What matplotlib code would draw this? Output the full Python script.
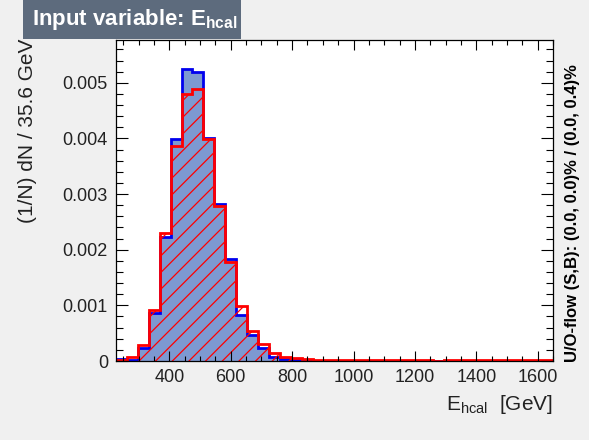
import numpy as np
import matplotlib
matplotlib.use("Agg")
import matplotlib.pyplot as plt
from matplotlib.patches import Rectangle
from matplotlib.ticker import MultipleLocator, FuncFormatter

plt.rcParams['font.family'] = ['Liberation Sans', 'DejaVu Sans']
plt.rcParams['mathtext.fontset'] = 'custom'
plt.rcParams['mathtext.rm'] = 'Liberation Sans'
plt.rcParams['mathtext.bf'] = 'Liberation Sans:bold'
plt.rcParams['hatch.linewidth'] = 0.9

# -----------------------------------------------------
# histogram data (normalised, 40 bins of 35.6 GeV)
# -----------------------------------------------------
x_lo = 226.0
bin_w = 35.6
n_bins = 40

signal = [
    0.00003, 0.00002, 0.00023, 0.00086, 0.00222, 0.00399, 0.00525, 0.00520,
    0.00400, 0.00282, 0.00183, 0.00083, 0.00047, 0.00024, 0.00008, 0.00003,
    0.00002, 0.00001, 0.0, 0.0, 0.0, 0.0, 0.0, 0.0,
    0.0, 0.0, 0.0, 0.0, 0.0, 0.0, 0.0, 0.0,
    0.0, 0.0, 0.0, 0.0, 0.0, 0.0, 0.0, 0.0,
]

background = [
    0.00001, 0.00007, 0.00029, 0.00092, 0.00230, 0.00387, 0.00480, 0.00489,
    0.00399, 0.00278, 0.00178, 0.00098, 0.00054, 0.00030, 0.00014, 0.00007,
    0.00005, 0.00004, 0.00002, 0.00002, 0.00002, 0.00002, 0.00002, 0.00002,
    0.00002, 0.00002, 0.00002, 0.00002, 0.00002, 0.0, 0.00002, 0.00002,
    0.00002, 0.00002, 0.00002, 0.00002, 0.00002, 0.00002, 0.00002, 0.00002,
]

edges = x_lo + bin_w * np.arange(n_bins + 1)

x_ticks = [400, 600, 800, 1000, 1200, 1400, 1600]
y_max = 0.00577

# -----------------------------------------------------
# figure
# -----------------------------------------------------
W, H = 589, 440
fig = plt.figure(figsize=(W / 100, H / 100), dpi=100, facecolor='#f0f0f0')
ax = fig.add_axes([116 / W, 1 - 361 / H, (553 - 116) / W, (361 - 40) / H])
ax.set_facecolor('white')

# signal: filled blue
ax.stairs(signal, edges, fill=True, facecolor='#7d99d1', edgecolor='none',
          linewidth=0)
ax.stairs(signal, edges, color='#0000ee', linewidth=2.0)

# background: red hatch
ax.stairs(background, edges, fill=True, facecolor='none', edgecolor='#ff0000',
          hatch='//', linewidth=0)
ax.stairs(background, edges, color='#ff0000', linewidth=2.0)

ax.set_xlim(edges[0], edges[-1])
ax.set_ylim(0, y_max)

ax.set_xticks(x_ticks)
ax.xaxis.set_minor_locator(MultipleLocator(50))
ax.yaxis.set_major_locator(MultipleLocator(0.001))
ax.yaxis.set_minor_locator(MultipleLocator(0.0002))
ax.yaxis.set_major_formatter(
    FuncFormatter(lambda v, p: "0" if abs(v) < 1e-9 else f"{v:.3f}"))

ax.tick_params(which='both', direction='in', top=True, right=True,
               width=0.8, labelsize=13, colors='black', labelcolor='#222222')
ax.tick_params(axis='x', which='major', length=7.2, pad=5.5)
ax.tick_params(axis='x', which='minor', length=3.6)
ax.tick_params(axis='y', which='major', length=8.6, pad=5.8)
ax.tick_params(axis='y', which='minor', length=5)
for s in ax.spines.values():
    s.set_linewidth(0.9)

# axis labels
fig.text(28 / W, 1 - 39 / H, "(1/N) dN / 35.6 GeV", rotation=90,
         ha='center', va='top', fontsize=15, color='#222222')
fig.text(553 / W, 1 - 404 / H, r"E$_{\mathrm{hcal}}$  [GeV]",
         ha='right', va='center', fontsize=15, color='#222222')

# overflow text
fig.text(572 / W, 1 - 362 / H, "U/O-flow (S,B): (0.0, 0.0)% / (0.0, 0.4)%",
         rotation=90, ha='center', va='bottom', fontsize=12,
         fontweight='bold', color='black')

# title box
fig.patches.append(Rectangle((23 / W, 1 - 39 / H), (241 - 23) / W, 39 / H,
                             transform=fig.transFigure, facecolor='#5d6b7d',
                             edgecolor='none', zorder=0))
fig.text(32 / W, 1 - 19 / H, r"Input variable: E$_{\mathbf{hcal}}$",
         ha='left', va='center', fontsize=16, fontweight='bold',
         color='white')

plt.savefig("out.png", dpi=100, facecolor=fig.get_facecolor())
